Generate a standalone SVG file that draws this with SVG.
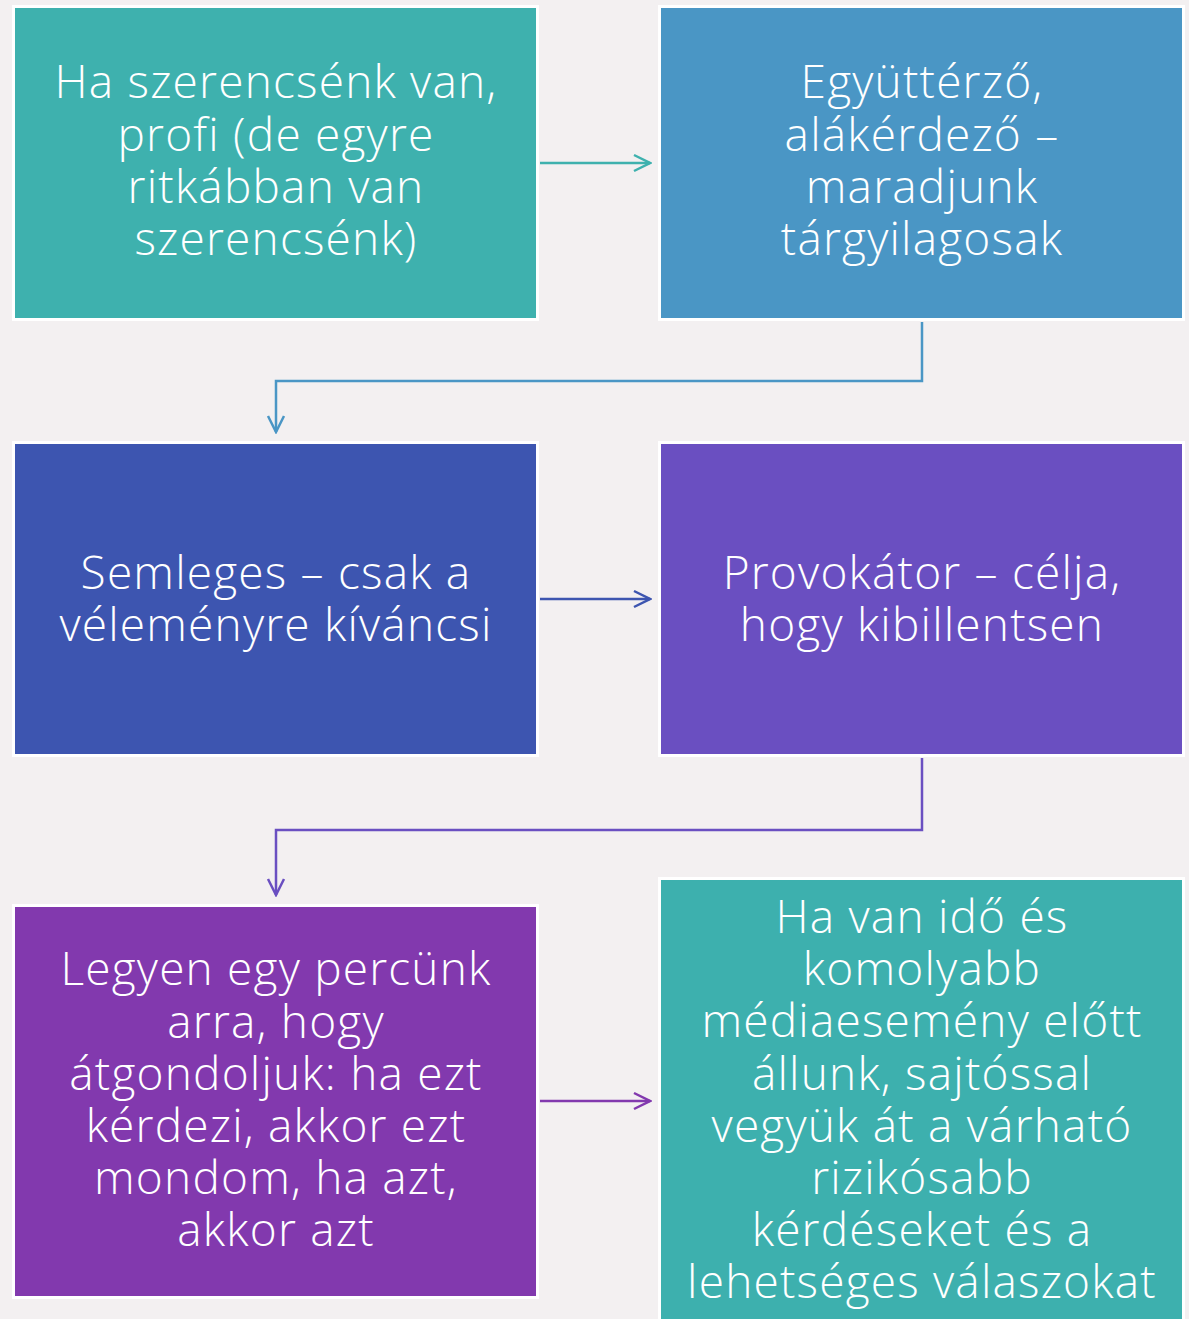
<svg xmlns="http://www.w3.org/2000/svg" width="1189" height="1319" viewBox="0 0 1189 1319">
<defs>
<style>
.box{stroke:#ffffff;stroke-width:3}
.t{font-family:"Open Sans","Lato","DejaVu Sans",sans-serif;font-weight:300;font-size:46px;letter-spacing:1.2px;fill:#ffffff;text-anchor:middle}
.c{fill:none;stroke-width:2.5}
</style>
<marker id="a1" viewBox="0 0 20 20" refX="18" refY="10" markerWidth="20" markerHeight="20" markerUnits="userSpaceOnUse" orient="auto"><path d="M2,2 L18,10 L2,18" fill="none" stroke="#3EB1AE" stroke-width="2.5"/></marker>
<marker id="a2" viewBox="0 0 20 20" refX="18" refY="10" markerWidth="20" markerHeight="20" markerUnits="userSpaceOnUse" orient="auto"><path d="M2,2 L18,10 L2,18" fill="none" stroke="#4A96C5" stroke-width="2.5"/></marker>
<marker id="a3" viewBox="0 0 20 20" refX="18" refY="10" markerWidth="20" markerHeight="20" markerUnits="userSpaceOnUse" orient="auto"><path d="M2,2 L18,10 L2,18" fill="none" stroke="#3D55B0" stroke-width="2.5"/></marker>
<marker id="a4" viewBox="0 0 20 20" refX="18" refY="10" markerWidth="20" markerHeight="20" markerUnits="userSpaceOnUse" orient="auto"><path d="M2,2 L18,10 L2,18" fill="none" stroke="#6A4FC1" stroke-width="2.5"/></marker>
<marker id="a5" viewBox="0 0 20 20" refX="18" refY="10" markerWidth="20" markerHeight="20" markerUnits="userSpaceOnUse" orient="auto"><path d="M2,2 L18,10 L2,18" fill="none" stroke="#8239AE" stroke-width="2.5"/></marker>
</defs>
<rect x="0" y="0" width="1189" height="1319" fill="#F3F0F1"/>
<g id="connectors">
<path class="c" d="M540,163 L650,163" stroke="#3EB1AE" marker-end="url(#a1)"/>
<path class="c" d="M922,322 L922,381 L276,381 L276,432" stroke="#4A96C5" marker-end="url(#a2)"/>
<path class="c" d="M540,599 L650,599" stroke="#3D55B0" marker-end="url(#a3)"/>
<path class="c" d="M922,758 L922,830 L276,830 L276,895" stroke="#6A4FC1" marker-end="url(#a4)"/>
<path class="c" d="M540,1101 L650,1101" stroke="#8239AE" marker-end="url(#a5)"/>
</g>
<g id="node1">
<rect class="box" x="13.5" y="6.5" width="524" height="313" fill="#3EB1AE"/>
<text class="t"><tspan x="276" y="98">Ha szerencsénk van,</tspan><tspan x="276" y="151">profi (de egyre</tspan><tspan x="276" y="203">ritkábban van</tspan><tspan x="276" y="255">szerencsénk)</tspan></text>
</g>
<g id="node2">
<rect class="box" x="659.5" y="6.5" width="524" height="313" fill="#4A96C5"/>
<text class="t"><tspan x="922" y="98">Együttérző,</tspan><tspan x="922" y="151">alákérdező –</tspan><tspan x="922" y="203">maradjunk</tspan><tspan x="922" y="255">tárgyilagosak</tspan></text>
</g>
<g id="node3">
<rect class="box" x="13.5" y="442.5" width="524" height="313" fill="#3D55B0"/>
<text class="t"><tspan x="276" y="589">Semleges – csak a</tspan><tspan x="276" y="641">véleményre kíváncsi</tspan></text>
</g>
<g id="node4">
<rect class="box" x="659.5" y="442.5" width="524" height="313" fill="#6A4FC1"/>
<text class="t"><tspan x="922" y="589">Provokátor – célja,</tspan><tspan x="922" y="641">hogy kibillentsen</tspan></text>
</g>
<g id="node5">
<rect class="box" x="13.5" y="905.5" width="524" height="392" fill="#8239AE"/>
<text class="t"><tspan x="276" y="985">Legyen egy percünk</tspan><tspan x="276" y="1038">arra, hogy</tspan><tspan x="276" y="1090">átgondoljuk: ha ezt</tspan><tspan x="276" y="1142">kérdezi, akkor ezt</tspan><tspan x="276" y="1194">mondom, ha azt,</tspan><tspan x="276" y="1246">akkor azt</tspan></text>
</g>
<g id="node6">
<rect class="box" x="659.5" y="878.5" width="524" height="450" fill="#3DB0AE"/>
<text class="t"><tspan x="922" y="933">Ha van idő és</tspan><tspan x="922" y="985">komolyabb</tspan><tspan x="922" y="1037">médiaesemény előtt</tspan><tspan x="922" y="1090">állunk, sajtóssal</tspan><tspan x="922" y="1142">vegyük át a várható</tspan><tspan x="922" y="1194">rizikósabb</tspan><tspan x="922" y="1246">kérdéseket és a</tspan><tspan x="922" y="1298">lehetséges válaszokat</tspan></text>
</g>
</svg>
